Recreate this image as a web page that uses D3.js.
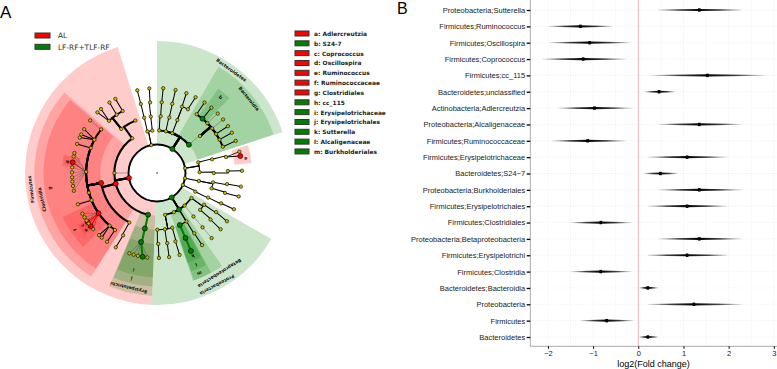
<!DOCTYPE html>
<html>
<head>
<meta charset="utf-8">
<script src="https://cdn.jsdelivr.net/npm/d3@7"></script>
<style>
  body { margin: 0; background: #fff; }
  svg { display: block; }
  text { font-family: "Liberation Sans", sans-serif; }
  .clad text { font-family: "DejaVu Sans", sans-serif; }
</style>
</head>
<body>
<div id="chart"></div>
<script>
// panel A: legends
const classNames = ["AL", "LF-RF+TLF-RF"];
const cladeLegend = [
  ["a: Adlercreutzia", "AL"], ["b: S24-7", "LF"], ["c: Coprococcus", "AL"], ["d: Oscillospira", "AL"],
  ["e: Ruminococcus", "AL"], ["f: Ruminococcaceae", "AL"], ["g: Clostridiales", "AL"], ["h: cc_115", "LF"],
  ["i: Erysipelotrichaceae", "LF"], ["j: Erysipelotrichales", "LF"], ["k: Sutterella", "LF"],
  ["l: Alcaligenaceae", "LF"], ["m: Burkholderiales", "LF"],
];
// panel A: shaded clades [label, from deg, to deg, inner level, outer ring, group, label deg, label ring]
const clades = [
  ["Firmicutes", 182.3, 342.7, 1, 0, "AL", 262.6, 0.55],
  ["Clostridia", 212.5, 311, 2, 1, "AL", 257, 1.5],
  ["g", 212.5, 310, 3, 2, "AL", 262, 2.55],
  ["f", 225, 245, 4, 3, "AL", 235.4, 3.5],
  ["d", 274, 281, 4.5, 4, "AL", 277, 4.5],
  ["c", 233, 236.5, 4.5, 4, "AL", 234.8, 4.4],
  ["e", 229.5, 233, 4.5, 4, "AL", 231.2, 4.4],
  ["Erysipelotrichi", 182.3, 202.8, 2, 1, "LF", 193.9, 1.5],
  ["j", 182.3, 202.5, 3, 2, "LF", 193.6, 2.5],
  ["i", 182.3, 202.2, 4, 3, "LF", 193.6, 3.5],
  ["Bacteroidetes", 0, 71.9, 1, 0, "LF", 35.8, 0.55],
  ["Bacteroidia", 30, 71.7, 2, 1, "LF", 51, 1.5],
  ["b", 36, 44, 4, 3, "LF", 40, 3.6],
  ["a", 73, 84, 4.5, 4, "AL", 80.6, 4.5],
  ["Proteobacteria", 120, 182.3, 1, 0, "LF", 151.8, 0.55],
  ["Betaproteobacteria", 145, 161.5, 2, 2, "LF", 148, 1.5],
  ["m", 151.5, 161, 3, 2, "LF", 157, 2.5],
  ["l", 152, 161, 3, 3, "LF", 156.9, 3.5],
  ["k", 152.5, 161.5, 4, 4, "LF", 156.6, 4.5],
];
// panel A: taxa [id, parent, deg, level, abundance 0-1, group]
const taxa = [
  // Bacteroidetes
  ["bac", "root", 32.6, 1, 0.7, "LF"],
  ["b1", "bac", 3, 2, 0.9, ""], ["b1o", "b1", 3.7, 3, 0.3, ""], ["b1f", "b1o", 3.8, 4, 0.3, ""], ["b1g", "b1f", 4.2, 5, 0.3, ""],
  ["b2", "bac", 12, 2, 0.9, ""], ["b2o", "b2", 12.5, 3, 0.3, ""], ["b2f", "b2o", 12.4, 4, 0.3, ""], ["b2g", "b2f", 12.6, 5, 0.3, ""],
  ["b3", "bac", 21, 2, 0.9, ""], ["b3o", "b3", 21, 3, 0.3, ""],
  ["b3f", "b3o", 20.7, 4, 0.3, ""], ["b3g", "b3f", 20.2, 5, 0.3, ""],
  ["b4f", "b3o", 25.8, 4, 0.3, ""], ["b4g", "b4f", 27, 5, 0.3, ""],
  ["bdia", "bac", 48.5, 2, 0.9, "LF"], ["bdo", "bdia", 49.3, 3, 0, ""],
  ["s1", "bdo", 34, 4, 0.8, ""], ["s1g", "s1", 34, 5, 0.3, ""],
  ["s24", "bdo", 40, 4, 0.8, "LF"], ["s24g", "s24", 39.8, 5, 0.3, ""],
  ["s3", "bdo", 45.3, 4, 0.8, ""], ["s3g", "s3", 45.6, 5, 0, ""],
  ["s4", "bdo", 51, 4, 0, ""], ["s4g", "s4", 51, 5, 0, ""],
  ["s5", "bdo", 56.5, 4, 0.8, ""], ["s5g", "s5", 56.6, 5, 0.3, ""],
  ["s6", "bdo", 61.9, 4, 0.8, ""], ["s6g", "s6", 61.7, 5, 0.3, ""],
  ["s7", "bdo", 68.2, 4, 0.8, ""], ["s7g", "s7", 67.8, 5, 0.3, ""],
  // top unshaded phylum
  ["x", "root", 348.4, 1, 0.3, ""],
  ["x1", "x", 347, 2, 0.3, ""], ["x1o", "x1", 346.9, 3, 0.3, ""], ["x1f", "x1o", 346.8, 4, 0.3, ""], ["x1g", "x1f", 346.6, 5, 0.3, ""],
  ["x2", "x", 353.7, 2, 0.3, ""], ["x2o", "x2", 353.7, 3, 0.3, ""], ["x2f", "x2o", 354.4, 4, 0.3, ""], ["x2g", "x2f", 354.8, 5, 0.3, ""],
  // Actinobacteria
  ["act", "root", 80.4, 1, 0.3, ""],
  ["a1", "act", 75.5, 2, 0.4, ""], ["a1o", "a1", 76, 3, 0.3, ""], ["a1f", "a1o", 77, 4, 0.3, ""],
  ["a1g", "a1f", 75.5, 5, 0.2, ""], ["adl", "a1f", 78.5, 5, 0.3, "AL"],
  ["a2", "act", 89, 2, 0.4, ""], ["a2o", "a2", 90, 3, 0.4, ""], ["a2f", "a2o", 88.4, 4, 0.4, ""], ["a2g", "a2f", 88.5, 5, 0.4, ""],
  // right unshaded phyla
  ["p1", "root", 100.7, 1, 0.3, ""], ["p1c", "p1", 100.8, 2, 0.3, ""],
  ["p1o", "p1c", 99.5, 3, 0.3, ""], ["p1f", "p1o", 99, 4, 0.3, ""], ["p1g", "p1f", 99.2, 5, 0.3, ""],
  ["p2o", "p1c", 105.7, 3, 0.3, ""], ["p2f", "p2o", 106.3, 4, 0.3, ""], ["p2g", "p2f", 106, 5, 0.3, ""],
  ["p3", "root", 115, 1, 0.3, ""], ["p3c", "p3", 116, 2, 0.3, ""], ["p3o", "p3c", 115.7, 3, 0.3, ""], ["p3f", "p3o", 115.3, 4, 0.3, ""], ["p3g", "p3f", 115.2, 5, 0.3, ""],
  // Proteobacteria
  ["pro", "root", 148.8, 1, 0.7, "LF"],
  ["q1", "pro", 126, 2, 0.6, ""],
  ["q1o", "q1", 124, 3, 0.3, ""], ["q1f", "q1o", 123.5, 4, 0.3, ""], ["q1g", "q1f", 124.6, 5, 0.3, ""],
  ["q2o", "q1", 130.5, 3, 0.3, ""], ["q2f", "q2o", 131, 4, 0.3, ""], ["q2g", "q2f", 131.5, 5, 0.3, ""],
  ["q3", "pro", 139.8, 2, 0.6, ""], ["q3o", "q3", 140, 3, 0, ""], ["q3f", "q3o", 140, 4, 0, ""], ["q3g", "q3f", 140, 5, 0, ""],
  ["beta", "pro", 148.8, 2, 0.7, "LF"],
  ["r1", "beta", 148.6, 3, 0.4, ""], ["r1f", "r1", 148.3, 4, 0.3, ""], ["r1g", "r1f", 148, 5, 0.3, ""],
  ["burk", "beta", 156.3, 3, 0.4, "LF"], ["alca", "burk", 156.3, 4, 0.9, "LF"], ["sutt", "alca", 156.5, 5, 0.9, "LF"],
  ["q4", "pro", 156.8, 2, 0.6, ""],
  ["q5", "pro", 169, 2, 0.6, ""],
  ["q5a", "q5", 164.4, 3, 0.3, ""], ["q5af", "q5a", 164.9, 4, 0.3, ""], ["q5ag", "q5af", 164.6, 5, 0.3, ""],
  ["q5b", "q5", 172, 3, 0.3, ""], ["q5bf", "q5b", 171.7, 4, 0.3, ""], ["q5bg", "q5bf", 171.8, 5, 0.3, ""],
  ["q5c", "q5", 179.7, 3, 0.3, ""], ["q5cf", "q5c", 179, 4, 0.3, ""], ["q5cg", "q5cf", 178.7, 5, 0.3, ""],
  // Firmicutes
  ["fir", "root", 259.9, 1, 0.7, "AL"],
  ["ery", "fir", 192.1, 2, 0.9, "LF"], ["eryo", "ery", 192.4, 3, 0.9, "LF"], ["eryf", "eryo", 193, 4, 0.9, "LF"],
  ["e1", "eryf", 199, 5, 0, ""], ["e2", "eryf", 196, 5, 0, ""], ["e3", "eryf", 193, 5, 0, ""],
  ["cc115", "eryf", 189.7, 5, 0.9, "LF"], ["e4", "eryf", 186.5, 5, 0, ""],
  ["cdia", "fir", 255.5, 2, 0.9, "AL"],
  ["cles", "cdia", 259.9, 3, 0.9, "AL"],
  ["o209", "cdia", 209.2, 3, 0.9, ""], ["o209f", "o209", 208.5, 4, 0.3, ""], ["o209g", "o209f", 209, 5, 0.3, ""],
  ["f216", "cles", 216.4, 4, 0.8, ""], ["g216", "f216", 216, 5, 0.3, ""],
  ["f222", "cles", 222, 4, 0.8, ""], ["g221", "f222", 220.5, 5, 0.3, ""], ["g223", "f222", 223, 5, 0.3, ""],
  ["rumi", "cles", 235.5, 4, 0.8, "AL"],
  ["g229", "rumi", 228.7, 5, 0, ""], ["rumg", "rumi", 231.3, 5, 0.4, "AL"], ["copr", "rumi", 234.7, 5, 0.4, "AL"],
  ["g234", "rumi", 233.5, 5, 0, ""], ["g236", "rumi", 236, 5, 0, ""], ["g238", "rumi", 238.6, 5, 0, ""], ["g241", "rumi", 241.4, 5, 0, ""],
  ["f247", "cles", 247.4, 4, 0.8, ""], ["g248", "f247", 248.4, 5, 0.3, ""],
  ["f254", "cles", 253.9, 4, 0.8, ""],
  ["f271", "cles", 271, 4, 0.8, ""],
  ["n1", "f271", 257.9, 5, 0, ""], ["n2", "f271", 261.2, 5, 0, ""], ["n3", "f271", 264.2, 5, 0, ""], ["n4", "f271", 267.1, 5, 0, ""],
  ["n5", "f271", 270.4, 5, 0, ""], ["n6", "f271", 273.8, 5, 0, ""], ["osci", "f271", 277.2, 5, 0.1, "AL"], ["n8", "f271", 281.2, 5, 0, ""], ["n9", "f271", 283.6, 5, 0, ""],
  ["f291", "cles", 290.7, 4, 0.8, ""], ["g290", "f291", 290, 5, 0.3, ""],
  ["f298", "cles", 298, 4, 0.8, ""], ["g295", "f298", 294.6, 5, 0.3, ""], ["g297", "f298", 297, 5, 0.3, ""], ["g301", "f298", 301, 5, 0.3, ""],
  ["f308", "cles", 308, 4, 0.8, ""], ["g308", "f308", 308.2, 5, 0, ""],
  ["c324", "fir", 324.4, 2, 0.9, ""],
  ["o321", "c324", 321, 3, 0, ""], ["o337", "c324", 337.6, 3, 0.8, ""],
  ["f317", "o321", 317.4, 4, 0.7, ""], ["g316", "f317", 315.5, 5, 0.3, ""], ["g319", "f317", 318.8, 5, 0.3, ""],
  ["f325", "o321", 325.3, 4, 0.7, ""], ["g326", "f325", 326, 5, 0.3, ""],
  ["f331", "o321", 331, 4, 0.7, ""], ["g331", "f331", 330.7, 5, 0.3, ""],
  ["p270", "root", 270, 1, 0, ""], ["p270c", "p270", 270, 2, 0, ""],
];

// panel B: log2 fold change
const foldLabels = [
  "Proteobacteria;Sutterella", "Firmicutes;Ruminococcus", "Firmicutes;Oscillospira", "Firmicutes;Coprococcus",
  "Firmicutes;cc_115", "Bacteroidetes;unclassified", "Actinobacteria;Adlercreutzia", "Proteobacteria;Alcaligenaceae",
  "Firmicutes;Ruminococcaceae", "Firmicutes;Erysipelotrichaceae", "Bacteroidetes;S24\u22127", "Proteobacteria;Burkholderiales",
  "Firmicutes;Erysipelotrichales", "Firmicutes;Clostridiales", "Proteobacteria;Betaproteobacteria", "Firmicutes;Erysipelotrichi",
  "Firmicutes;Clostridia", "Bacteroidetes;Bacteroidia", "Proteobacteria", "Firmicutes", "Bacteroidetes",
];
const foldMean = [1.35, -1.28, -1.08, -1.22, 1.53, 0.46, -0.97, 1.35, -1.12, 1.08, 0.49, 1.35, 1.08, -0.83, 1.35, 1.08, -0.83, 0.21, 1.23, -0.7, 0.21];
const foldLow = [0.44, -1.99, -1.97, -2.12, 0.27, 0.15, -1.78, 0.44, -1.92, 0.21, 0.13, 0.44, 0.21, -1.49, 0.44, 0.21, -1.49, 0.02, 0.21, -1.28, 0.02];
const foldHigh = [2.29, -0.57, -0.17, -0.27, 2.82, 0.81, -0.13, 2.29, -0.27, 1.97, 0.87, 2.29, 1.97, -0.15, 2.29, 1.97, -0.15, 0.44, 2.29, -0.11, 0.44];
const foldTicks = [-2, -1, 0, 1, 2, 3];

const svg = d3.select("#chart").append("svg").attr("width", 777).attr("height", 369);
const defs = svg.append("defs");

svg.append("text").text("A").attr("x", 0).attr("y", 18).attr("font-size", 17);
svg.append("text").text("B").attr("x", 397).attr("y", 14).attr("font-size", 16);

/* ---------- panel A ---------- */
const groupColor = { AL: "#ff0000", LF: "#008000", "": "#c8ba00" };
const rad = d3.scaleLinear().domain([0, 360]).range([0, 2 * Math.PI]);
const levelR = d3.scaleLinear().domain([1, 5]).range([28.5, 85]);
const ringR = d3.scaleLinear().domain([0, 4]).range([132, 95]);
const edgeW = d3.scaleLinear().domain([0, 1]).range([0.45, 2.3]);
const nodeR = d3.scaleLinear().domain([0, 1]).range([1.7, 2.5]);

const clad = svg.append("g").attr("class", "clad").attr("transform", "translate(157,173)");
const polar = (deg, r) => [r * Math.sin(rad(deg)), -r * Math.cos(rad(deg))];
const wedge = d3.arc();

clad.append("g").selectAll("path").data(clades).join("path")
  .attr("d", (d) => wedge({ innerRadius: levelR(d[3]), outerRadius: ringR(d[4]), startAngle: rad(d[1]), endAngle: rad(d[2]) }))
  .attr("fill", (d) => groupColor[d[5]])
  .attr("fill-opacity", 0.2);

clad.append("g").selectAll("text").data(clades).join("text")
  .text((d) => d[0])
  .attr("transform", (d) => {
    const p = polar(d[6], ringR(d[7]));
    return `translate(${p[0]},${p[1]}) rotate(${d[6]})`;
  })
  .attr("text-anchor", "middle")
  .attr("dy", "0.35em")
  .attr("font-size", 4.6)
  .attr("font-weight", "bold")
  .attr("fill", "#111");

const byId = new Map(taxa.map((d) => [d[0], d]));

function edgePath(d) {
  const par = byId.get(d[1]);
  const path = d3.path();
  const start = polar(par[2], levelR(par[3]));
  path.moveTo(start[0], start[1]);
  if (d[3] === 5) {
    const end = polar(d[2], levelR(5));
    path.lineTo(end[0], end[1]);
    return path.toString();
  }
  const r = levelR(d[3]);
  const mid = polar(par[2], r);
  path.lineTo(mid[0], mid[1]);
  path.arc(0, 0, r, rad(par[2]) - Math.PI / 2, rad(d[2]) - Math.PI / 2, d[2] < par[2]);
  return path.toString();
}

function edgeColor(d) {
  const par = byId.get(d[1]);
  if (d[5] && d[5] === par[5] && (d[3] === 5 || Math.abs(d[2] - par[2]) < 1) && d[3] > 2) return groupColor[d[5]];
  return d[4] === 0 ? "#555" : "#000";
}

clad.append("circle").attr("r", levelR(1)).attr("fill", "none").attr("stroke", "#000").attr("stroke-width", 1.9);

clad.append("g").selectAll("path").data(taxa.filter((d) => d[1] !== "root")).join("path")
  .attr("d", edgePath)
  .attr("fill", "none")
  .attr("stroke", edgeColor)
  .attr("stroke-width", (d) => edgeW(d[4]));

clad.append("circle").attr("r", 0.7).attr("fill", "#000");

clad.append("g").selectAll("circle").data(taxa.filter((d) => d[0] !== "p270")).join("circle")
  .attr("cx", (d) => polar(d[2], levelR(d[3]))[0])
  .attr("cy", (d) => polar(d[2], levelR(d[3]))[1])
  .attr("r", (d) => (d[5] ? nodeR(1) : nodeR(0)))
  .attr("fill", (d) => groupColor[d[5]])
  .attr("stroke", "#000")
  .attr("stroke-width", 0.6);

// legends
const legendBox = (g, w) => g.append("rect")
  .attr("width", w).attr("height", 5)
  .attr("fill", (d) => groupColor[d[1]])
  .attr("stroke", "#333")
  .attr("stroke-width", 1);

const classLegend = svg.append("g").selectAll("g").data(classNames.map((d, i) => [d, i ? "LF" : "AL"])).join("g")
  .attr("transform", (d, i) => `translate(35,${33 + i * 11.3})`);
legendBox(classLegend, 15);
classLegend.append("text").text((d) => d[0])
  .attr("x", 23).attr("y", 5.2)
  .attr("font-size", 7.4).attr("fill", "#333")
  .style("font-family", "DejaVu Sans");

const nameLegend = svg.append("g").selectAll("g").data(cladeLegend).join("g")
  .attr("transform", (d, i) => `translate(295,${31 + i * 9.83})`);
legendBox(nameLegend, 14);
nameLegend.append("text").text((d) => d[0])
  .attr("x", 19).attr("y", 5)
  .attr("font-size", 5.9).attr("font-weight", "bold").attr("fill", "#222")
  .style("font-family", "DejaVu Sans");

/* ---------- panel B ---------- */
const plot = { left: 530.3, right: 777, top: 0, bottom: 346.3 };
const x = d3.scaleLinear().domain([-2.39, 3.07]).range([plot.left, plot.right]);
const y = d3.scalePoint().domain(foldLabels).range([10, 337]);

const gridH = svg.append("g").selectAll("line").data(foldLabels).join("line")
  .attr("x1", plot.left).attr("x2", plot.right)
  .attr("y1", (d) => y(d)).attr("y2", (d) => y(d));
const gridV = svg.append("g").selectAll("line").data(d3.range(-2, 3.5, 0.5)).join("line")
  .attr("x1", (d) => x(d)).attr("x2", (d) => x(d))
  .attr("y1", plot.top).attr("y2", plot.bottom);
[gridH, gridV].forEach((g) => g.attr("stroke", "#e6e6e6").attr("stroke-width", 0.6).attr("stroke-dasharray", "1,1.5"));

svg.append("line")
  .attr("x1", x(0)).attr("x2", x(0)).attr("y1", plot.top).attr("y2", plot.bottom)
  .attr("stroke", "#f2b8b8").attr("stroke-width", 1);

// lens shaped interval, darkest at the mean
foldLabels.forEach((label, i) => {
  const grad = defs.append("linearGradient").attr("id", `fold${i}`);
  const meanAt = (foldMean[i] - foldLow[i]) / (foldHigh[i] - foldLow[i]);
  grad.append("stop").attr("offset", 0).attr("stop-color", "#000").attr("stop-opacity", 0.1);
  grad.append("stop").attr("offset", meanAt * 0.5).attr("stop-color", "#000").attr("stop-opacity", 0.75);
  grad.append("stop").attr("offset", meanAt).attr("stop-color", "#000").attr("stop-opacity", 1);
  grad.append("stop").attr("offset", meanAt + (1 - meanAt) * 0.5).attr("stop-color", "#000").attr("stop-opacity", 0.75);
  grad.append("stop").attr("offset", 1).attr("stop-color", "#000").attr("stop-opacity", 0.1);

  const lens = d3.area()
    .x((d) => x(d))
    .y0((d) => y(label) - (d === foldMean[i] ? 1.1 : 0.4))
    .y1((d) => y(label) + (d === foldMean[i] ? 1.1 : 0.4));
  svg.append("path")
    .attr("d", lens([foldLow[i], foldMean[i], foldHigh[i]]))
    .attr("fill", `url(#fold${i})`);
  svg.append("rect")
    .attr("x", x(foldMean[i]) - 1.3).attr("y", y(label) - 1.7)
    .attr("width", 2.6).attr("height", 3.4)
    .attr("fill", "#000");
});

const yAxis = svg.append("g").attr("transform", `translate(${plot.left},0)`)
  .call(d3.axisLeft(y).tickSize(3.6).tickPadding(1.5));
const xAxis = svg.append("g").attr("transform", `translate(0,${plot.bottom})`)
  .call(d3.axisBottom(x).tickValues(foldTicks).tickFormat(d3.format("d")).tickSize(2.5).tickPadding(1.5));
[yAxis, xAxis].forEach((a) => {
  a.select(".domain").attr("stroke", "#aaa").attr("stroke-width", 1);
  a.selectAll("text").attr("fill", "#222").style("font-family", "Liberation Sans");
});
yAxis.select(".domain").attr("d", `M0,${plot.top}V${plot.bottom}`);
xAxis.select(".domain").attr("d", `M${plot.left},0H${plot.right}`);
yAxis.selectAll("line").attr("stroke-width", 1.3);
yAxis.selectAll("text").attr("font-size", 7.5);
xAxis.selectAll("text").attr("font-size", 7.5);

svg.append("text").text("log2(Fold change)")
  .attr("x", 653.5).attr("y", 367)
  .attr("text-anchor", "middle")
  .attr("font-size", 9);
</script>
</body>
</html>
